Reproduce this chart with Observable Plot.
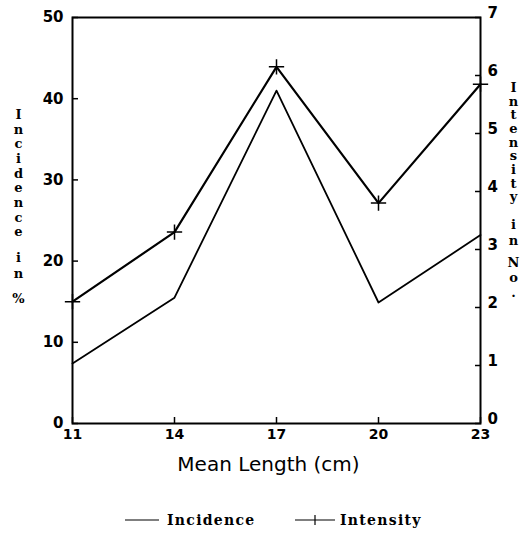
<!DOCTYPE html>
<html><head><meta charset="utf-8">
<script src="https://cdn.jsdelivr.net/npm/d3@7"></script>
<script src="https://cdn.jsdelivr.net/npm/@observablehq/plot@0.6"></script>
<style>
body{margin:0;background:#fff;}
#legend{position:relative;height:49px;font-family:"DejaVu Serif",serif;font-weight:bold;font-size:14px;letter-spacing:1.3px;color:#000}
#legend .item{position:absolute;top:22px;display:flex;align-items:center;height:16px}
#legend svg{display:block}
</style></head><body>
<div id="chart"></div>
<div id="legend"></div>
<script>
const lengths = [11, 14, 17, 20, 23];
const incidence = [7.4, 15.5, 41, 14.9, 23.2];
const intensity = [2.1, 3.3, 6.15, 3.8, 5.85];
const leftTicks = [0, 10, 20, 30, 40, 50];
const rightTicks = [0, 1, 2, 3, 4, 5, 6, 7];
const xTicks = [11, 14, 17, 20, 23];
const seriesNames = ["Incidence", "Intensity"];

const K = 50 / 7; // right axis (0–7) mapped onto left axis (0–50)
const incData = lengths.map((x, i) => ({x, v: incidence[i]}));
const intData = lengths.map((x, i) => ({x, v: intensity[i] * K}));

const letterFont = {fontFamily: "DejaVu Serif", fontWeight: "bold", fontSize: 13, lineAnchor: "top", textAnchor: "middle"};

const chart = Plot.plot({
  width: 526, height: 490,
  marginLeft: 72, marginRight: 46, marginTop: 17, marginBottom: 67,
  x: {domain: [11, 23]},
  y: {domain: [0, 50]},
  style: {fontFamily: "DejaVu Sans", fontWeight: "bold", fontSize: "14px", color: "#000", background: "#fff"},
  marks: [
    Plot.frame({stroke: "#000", strokeWidth: 2}),
    // inward ticks
    Plot.axisY(leftTicks, {anchor: "left", tickSize: 6, dx: 6, tickFormat: () => "", label: null, strokeWidth: 1.5}),
    Plot.axisY(leftTicks, {anchor: "left", tickSize: 0, tickPadding: 9, label: null, fontSize: 15}),
    Plot.axisY(rightTicks.map(v => v * K), {anchor: "right", tickSize: 6, dx: -6, tickFormat: () => "", label: null, strokeWidth: 1.5}),
    Plot.axisY(rightTicks.map(v => v * K), {anchor: "right", tickSize: 0, tickPadding: 7, dy: -4, tickFormat: d => String(Math.round(d / K)), label: null, fontSize: 15}),
    Plot.axisX(xTicks, {anchor: "bottom", tickSize: 6, dy: -6, tickFormat: () => "", label: null, strokeWidth: 1.5}),
    Plot.axisX(xTicks, {anchor: "bottom", tickSize: 0, tickPadding: 6, label: null, fontSize: 14}),
    Plot.text(["Mean Length (cm)"], {frameAnchor: "bottom", dy: 47, dx: -8, fontFamily: "DejaVu Sans", fontWeight: "normal", fontSize: 20, letterSpacing: 2.4}),
    Plot.text(["I\nn\nc\ni\nd\ne\nn\nc\ne"], {...letterFont, frameAnchor: "top-left", dx: -54, dy: 91, lineHeight: 1.13}),
    Plot.text(["i\nn"], {...letterFont, frameAnchor: "top-left", dx: -54, dy: 233, lineHeight: 1.23}),
    Plot.text(["%"], {...letterFont, frameAnchor: "top-left", dx: -54, dy: 276}),
    Plot.text(["I\nn\nt\ne\nn\ns\ni\nt\ny"], {...letterFont, frameAnchor: "top-right", dx: 33, dy: 65, lineHeight: 1.05}),
    Plot.text(["i\nn"], {...letterFont, frameAnchor: "top-right", dx: 33, dy: 199, lineHeight: 1.3}),
    Plot.text(["N\no\n."], {...letterFont, frameAnchor: "top-right", dx: 33, dy: 239, lineHeight: 1.15}),
    Plot.line(incData, {x: "x", y: "v", stroke: "#000", strokeWidth: 1.8}),
    Plot.line(intData, {x: "x", y: "v", stroke: "#000", strokeWidth: 2.2}),
    Plot.dot(intData, {x: "x", y: "v", symbol: "plus", r: 5, stroke: "#000", strokeWidth: 1.5})
  ]
});
document.getElementById("chart").append(chart);

const legend = document.getElementById("legend");
legend.innerHTML = `
<div class="item" style="left:124px"><svg width="36" height="12"><line x1="1" y1="6" x2="35" y2="6" stroke="#000" stroke-width="1.2"/></svg><span style="margin-left:7px">${seriesNames[0]}</span></div>
<div class="item" style="left:294px"><svg width="42" height="12"><line x1="1" y1="6" x2="41" y2="6" stroke="#000" stroke-width="1.2"/><line x1="21" y1="1" x2="21" y2="11" stroke="#000" stroke-width="1.2"/></svg><span style="margin-left:4px">${seriesNames[1]}</span></div>`;
</script>
</body></html>
